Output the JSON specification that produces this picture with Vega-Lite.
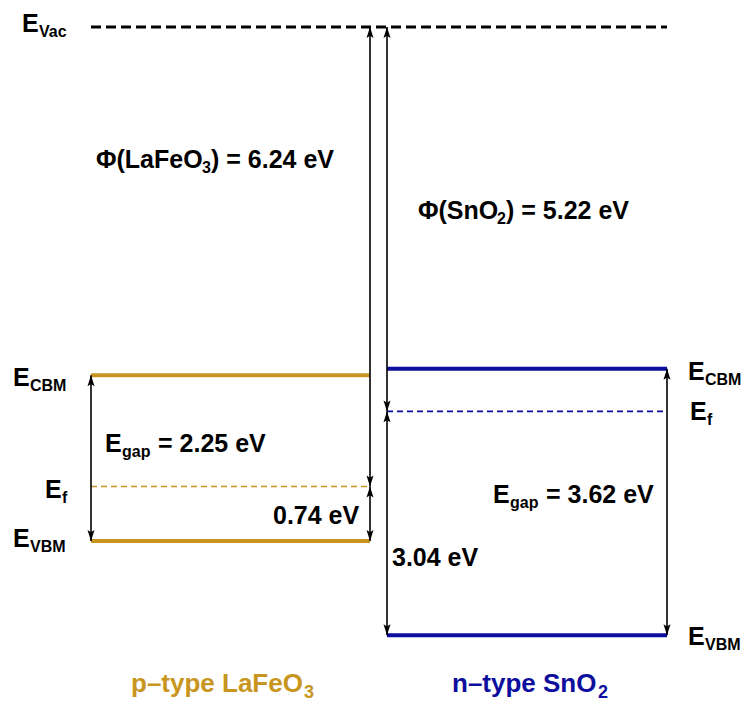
{
  "$schema": "https://vega.github.io/schema/vega-lite/v6.json",
  "width": 748,
  "height": 704,
  "padding": 0,
  "autosize": {"type": "fit", "contains": "padding"},
  "background": "white",
  "view": {"stroke": null},
  "config": {"text": {"font": "Liberation Sans", "fontWeight": "bold"}},
  "datasets": {
    "levels": [
      {"x": 91, "x2": 667, "E": 0, "c": "k", "kind": "vac"},
      {"x": 91, "x2": 370, "E": -4.73, "c": "La", "kind": "band"},
      {"x": 91, "x2": 370, "E": -6.24, "c": "La", "kind": "fermi"},
      {"x": 91, "x2": 370, "E": -6.98, "c": "La", "kind": "band"},
      {"x": 387, "x2": 667, "E": -4.64, "c": "Sn", "kind": "band"},
      {"x": 387, "x2": 667, "E": -5.22, "c": "Sn", "kind": "fermi"},
      {"x": 387, "x2": 667, "E": -8.26, "c": "Sn", "kind": "band"}
    ],
    "arrows": [
      {"x": 370, "top": 0, "bot": -6.24},
      {"x": 387, "top": 0, "bot": -5.22},
      {"x": 91, "top": -4.73, "bot": -6.98},
      {"x": 370, "top": -6.24, "bot": -6.98},
      {"x": 387, "top": -5.22, "bot": -8.26},
      {"x": 667, "top": -4.64, "bot": -8.26}
    ],
    "labels": [
      {"t1": "E", "x1": 22, "s": "Vac", "xs": 39, "E": 0.04, "c": "k"},
      {"t1": "E", "x1": 13, "s": "CBM", "xs": 30, "E": -4.766, "c": "k"},
      {"t1": "E", "x1": 45, "s": "f", "xs": 62, "E": -6.287, "c": "k"},
      {"t1": "E", "x1": 13, "s": "VBM", "xs": 30, "E": -6.953, "c": "k"},
      {"t1": "E", "x1": 688, "s": "CBM", "xs": 705, "E": -4.685, "c": "k"},
      {"t1": "E", "x1": 690, "s": "f", "xs": 707, "E": -5.228, "c": "k"},
      {"t1": "E", "x1": 688, "s": "VBM", "xs": 705, "E": -8.283, "c": "k"},
      {"t1": "Φ(LaFeO", "x1": 96, "s": "3", "xs": 202, "t2": ") = 6.24 eV", "x2": 211, "E": -1.806, "c": "k"},
      {"t1": "Φ(SnO", "x1": 418, "s": "2", "xs": 497, "t2": ") = 5.22 eV", "x2": 506, "E": -2.499, "c": "k"},
      {"t1": "E", "x1": 105, "s": "gap", "xs": 122, "t2": "= 2.25 eV", "x2": 158, "E": -5.663, "c": "k"},
      {"t1": "E", "x1": 493, "s": "gap", "xs": 510, "t2": "= 3.62 eV", "x2": 546, "E": -6.355, "c": "k"},
      {"t1": "0.74 eV", "x1": 273, "E": -6.64, "c": "k"},
      {"t1": "3.04 eV", "x1": 392, "E": -7.211, "c": "k"}
    ],
    "titles": [
      {"t1": "p–type LaFeO", "x1": 131, "s": "3", "xs": 304, "E": -8.922, "c": "La"},
      {"t1": "n–type SnO", "x1": 452, "s": "2", "xs": 598, "E": -8.922, "c": "Sn"}
    ]
  },
  "encoding": {
    "x": {"field": "x", "type": "quantitative", "scale": {"domain": [0, 748], "zero": false, "nice": false}, "axis": null},
    "y": {"field": "E", "type": "quantitative", "scale": {"domain": [-9.1935, 0.3667], "zero": false, "nice": false}, "axis": null},
    "color": {"field": "c", "type": "nominal", "scale": {"domain": ["k", "La", "Sn"], "range": ["#000000", "#C8961E", "#0E0E9E"]}, "legend": null}
  },
  "layer": [
    {
      "data": {"name": "levels"},
      "transform": [{"filter": "datum.kind == 'vac'"}],
      "mark": {"type": "rule", "strokeWidth": 3, "strokeDash": [10, 5]},
      "encoding": {"x2": {"field": "x2"}}
    },
    {
      "data": {"name": "levels"},
      "transform": [{"filter": "datum.kind == 'band'"}],
      "mark": {"type": "rule", "strokeWidth": 4},
      "encoding": {"x2": {"field": "x2"}}
    },
    {
      "data": {"name": "levels"},
      "transform": [{"filter": "datum.kind == 'fermi'"}],
      "mark": {"type": "rule", "strokeWidth": 1.6, "strokeDash": [6, 4]},
      "encoding": {"x2": {"field": "x2"}}
    },
    {
      "data": {"name": "arrows"},
      "mark": {"type": "rule", "strokeWidth": 1.6},
      "encoding": {
        "y": {"field": "top", "type": "quantitative"},
        "y2": {"field": "bot"},
        "color": {"value": "black"}
      }
    },
    {
      "data": {"name": "arrows"},
      "transform": [{"fold": ["top", "bot"], "as": ["key", "E"]}],
      "mark": {"type": "point", "filled": true, "size": 480, "opacity": 1, "strokeWidth": 0},
      "encoding": {
        "color": {"value": "black"},
        "shape": {"field": "key", "type": "nominal", "scale": {"domain": ["top", "bot"], "range": ["M0,0 L0.32,1 L0,0.8 L-0.32,1 Z", "M0,0 L0.32,-1 L0,-0.8 L-0.32,-1 Z"]}, "legend": null}
      }
    },
    {
      "data": {"name": "labels"},
      "mark": {"type": "text", "align": "left", "baseline": "middle", "fontSize": 25},
      "encoding": {"x": {"field": "x1", "type": "quantitative"}, "text": {"field": "t1"}}
    },
    {
      "data": {"name": "labels"},
      "transform": [{"filter": "datum.s != null"}],
      "mark": {"type": "text", "align": "left", "baseline": "middle", "fontSize": 16, "dy": 8},
      "encoding": {"x": {"field": "xs", "type": "quantitative"}, "text": {"field": "s"}}
    },
    {
      "data": {"name": "labels"},
      "transform": [{"filter": "datum.t2 != null"}],
      "mark": {"type": "text", "align": "left", "baseline": "middle", "fontSize": 25},
      "encoding": {"x": {"field": "x2", "type": "quantitative"}, "text": {"field": "t2"}}
    },
    {
      "data": {"name": "titles"},
      "mark": {"type": "text", "align": "left", "baseline": "middle", "fontSize": 26},
      "encoding": {"x": {"field": "x1", "type": "quantitative"}, "text": {"field": "t1"}}
    },
    {
      "data": {"name": "titles"},
      "mark": {"type": "text", "align": "left", "baseline": "middle", "fontSize": 18, "dy": 9},
      "encoding": {"x": {"field": "xs", "type": "quantitative"}, "text": {"field": "s"}}
    }
  ]
}
